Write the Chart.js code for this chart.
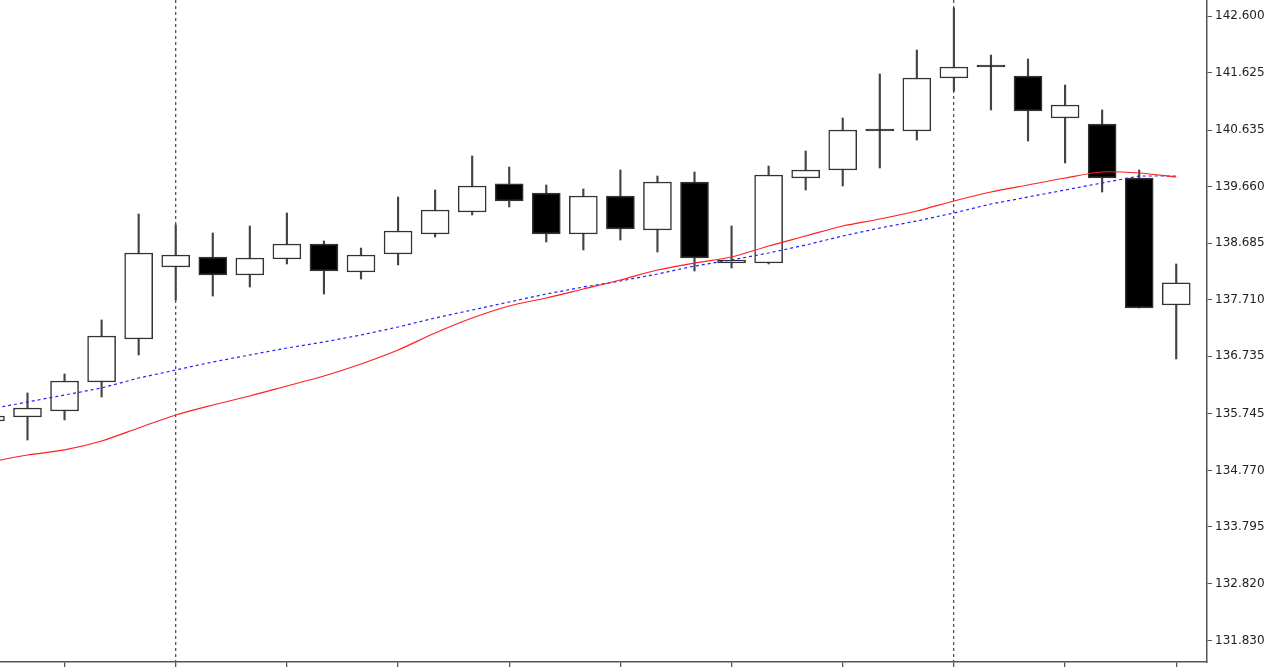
<!DOCTYPE html>
<html>
<head>
<meta charset="utf-8">
<script src="https://cdn.jsdelivr.net/npm/chart.js@4"></script>
<style>
  html, body { margin: 0; padding: 0; background: #fff; }
  #wrap { width: 1280px; height: 670px; }
</style>
</head>
<body>
<div id="wrap"><canvas id="chart"></canvas></div>
<script>
// candle index (bar number), OHLC
const bars   = [-1, 0, 1, 2, 3, 4, 5, 6, 7, 8, 9, 10, 11, 12, 13, 14, 15, 16, 17, 18, 19, 20, 21, 22, 23, 24, 25, 26, 27, 28, 29, 30, 31];
const opens  = [135.621, 135.690, 135.794, 136.293, 137.034, 138.275, 138.447, 138.137, 138.413, 138.671, 138.189, 138.499, 138.844, 139.223, 139.706, 139.550, 138.844, 139.498, 138.913, 139.740, 138.344, 138.344, 139.809, 139.947, 140.619, 140.619, 141.532, 141.721, 141.566, 140.843, 140.739, 139.809, 137.620];
const highs  = [135.725, 136.104, 136.431, 137.362, 139.188, 138.999, 138.861, 138.982, 139.206, 138.723, 138.602, 139.481, 139.602, 140.188, 139.998, 139.688, 139.619, 139.947, 139.843, 139.912, 138.982, 140.015, 140.274, 140.843, 141.601, 142.014, 142.738, 141.928, 141.859, 141.411, 140.981, 139.947, 138.327];
const lows   = [135.587, 135.294, 135.639, 136.035, 136.758, 137.706, 137.775, 137.930, 138.327, 137.810, 138.068, 138.310, 138.792, 139.171, 139.309, 138.706, 138.568, 138.740, 138.533, 138.206, 138.258, 138.327, 139.602, 139.671, 139.981, 140.463, 141.308, 140.981, 140.446, 140.067, 139.567, 137.569, 136.690];
const closes = [135.708, 135.845, 136.311, 137.086, 138.516, 138.482, 138.137, 138.430, 138.671, 138.206, 138.482, 138.895, 139.257, 139.671, 139.412, 138.844, 139.498, 138.930, 139.740, 138.430, 138.396, 139.860, 139.947, 140.636, 140.619, 141.532, 141.721, 141.721, 140.963, 141.067, 139.809, 137.569, 138.000];
// moving averages
const maRed  = [134.915, 135.035, 135.122, 135.277, 135.501, 135.725, 135.897, 136.052, 136.224, 136.397, 136.604, 136.845, 137.138, 137.396, 137.603, 137.741, 137.896, 138.051, 138.223, 138.344, 138.447, 138.637, 138.809, 138.982, 139.102, 139.240, 139.412, 139.567, 139.688, 139.809, 139.912, 139.895, 139.826];
const maBlue = [135.828, 135.949, 136.069, 136.190, 136.362, 136.500, 136.638, 136.759, 136.879, 136.983, 137.103, 137.241, 137.396, 137.534, 137.672, 137.810, 137.930, 138.034, 138.154, 138.292, 138.396, 138.516, 138.654, 138.809, 138.947, 139.068, 139.206, 139.361, 139.481, 139.602, 139.723, 139.843, 139.843];
// price axis labels
const priceTicks = [142.600, 141.625, 140.635, 139.660, 138.685, 137.710, 136.735, 135.745, 134.770, 133.795, 132.820, 131.830];
const separators = [4, 25];

const wickData = bars.map((b, i) => ({ x: b, y: [lows[i], highs[i]] }));
const bodyData = bars.map((b, i) => ({ x: b, y: [opens[i], closes[i]] }));
const bodyFill = bars.map((b, i) => (closes[i] > opens[i]) ? "#ffffff" : "#000000");

new Chart(document.getElementById("chart"), {
  data: {
    datasets: [
      {
        type: "line",
        data: bars.map((b, i) => ({ x: b, y: maRed[i] })),
        borderColor: "#ff2020",
        borderWidth: 1.2,
        pointRadius: 0,
        tension: 0.3,
        order: 0,
      },
      {
        type: "line",
        data: bars.map((b, i) => ({ x: b, y: maBlue[i] })),
        borderColor: "#2020ff",
        borderWidth: 1.2,
        borderDash: [3, 3],
        pointRadius: 0,
        order: 1,
      },
      {
        type: "bar",
        data: bodyData,
        backgroundColor: bodyFill,
        borderColor: "#333333",
        borderWidth: 1.5,
        borderSkipped: false,
        barThickness: 28,
        minBarLength: 2,
        grouped: false,
        order: 2,
      },
      {
        type: "bar",
        data: wickData,
        backgroundColor: "#444444",
        borderWidth: 0,
        barThickness: 1.5,
        grouped: false,
        order: 3,
      },
    ],
  },
  options: {
    responsive: true,
    maintainAspectRatio: false,
    animation: false,
    layout: { padding: 0 },
    plugins: { legend: { display: false }, tooltip: { enabled: false } },
    scales: {
      x: {
        type: "linear",
        min: -0.742,
        max: 31.83,
        offset: false,
        afterBuildTicks: (s) => {
          const t = [];
          for (let v = 1; v <= 31; v += 3) t.push({ value: v });
          s.ticks = t;
        },
        afterFit: (s) => { s.height = 8; s.paddingLeft = 0; s.paddingRight = 0; },
        ticks: { display: false },
        border: { color: "#555", width: 1.5, dash: [3, 3] },
        grid: {
          offset: false,
          color: (c) => separators.includes(c.tick && c.tick.value) ? "#555" : "rgba(0,0,0,0)",
          tickColor: "#555",
          tickLength: 5,
          lineWidth: 1.3,
        },
      },
      y: {
        position: "right",
        min: 131.468,
        max: 142.876,
        afterBuildTicks: (s) => { s.ticks = priceTicks.map((v) => ({ value: v })); },
        afterFit: (s) => { s.width = 73; s.paddingTop = 0; s.paddingBottom = 0; },
        ticks: {
          color: "#222",
          font: { family: "DejaVu Sans", size: 12 },
          padding: 3,
          callback: (v) => v.toFixed(3),
        },
        border: { color: "#555", width: 1.5 },
        grid: { drawOnChartArea: false, tickColor: "#555", tickLength: 5 },
      },
    },
  },
});
</script>
</body>
</html>
